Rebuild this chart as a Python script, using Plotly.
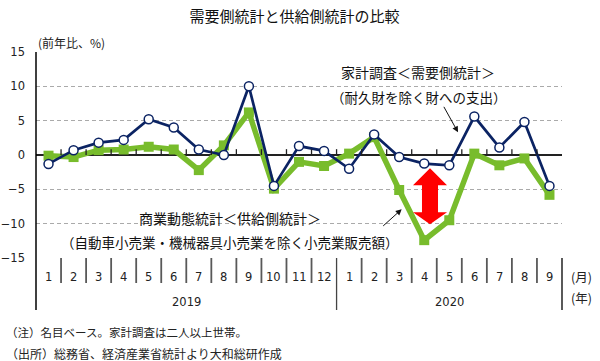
import plotly.graph_objects as go

# ---------------- data ----------------
months = ["1", "2", "3", "4", "5", "6", "7", "8", "9", "10", "11", "12",
          "1", "2", "3", "4", "5", "6", "7", "8", "9"]
years = ["2019", "2020"]
year_span = [(0, 11), (12, 20)]
household = [-1.3, 0.7, 1.8, 2.2, 5.2, 4.0, 0.8, 0.0, 10.0, -4.5, 1.3, 0.6,
             -2.0, 3.0, -0.3, -1.25, -1.5, 5.6, 1.1, 4.8, -4.5]
commerce = [-0.1, -0.3, 0.7, 0.8, 1.2, 0.8, -2.2, 1.4, 6.2, -4.9, -1.0, -1.6,
            0.2, 2.6, -5.1, -12.4, -9.5, 0.2, -1.5, -0.5, -5.8]
y_ticks = [-15, -10, -5, 0, 5, 10, 15]

x = list(range(len(months)))
n = len(months)

W, H = 600, 361
ML, MR, MT, MB = 36, 38, 52, 103
PW = W - ML - MR
PH = H - MT - MB

def px_x(p):  # pixel -> paper x
    return (p - ML) / PW

def px_y(p):  # pixel -> paper y
    return (H - MB - p) / PH

NAVY = "#0B2363"
GREEN = "#78BC2C"
JP = "Noto Sans CJK JP"
NUM = "DejaVu Sans"

fig = go.Figure()
fig.add_trace(go.Scatter(
    x=x, y=commerce, mode="lines+markers",
    line=dict(color=GREEN, width=5.5),
    marker=dict(symbol="square", size=10, color=GREEN),
    showlegend=False, hoverinfo="skip"))
fig.add_trace(go.Scatter(
    x=x, y=household, mode="lines+markers",
    line=dict(color=NAVY, width=2.7),
    marker=dict(symbol="circle", size=9, color="white", line=dict(color=NAVY, width=1.5)),
    showlegend=False, hoverinfo="skip"))

shapes = []
shapes.append(dict(type="rect", xref="paper", yref="paper", layer="between",
                   x0=px_x(327), x1=px_x(513), y0=px_y(108), y1=px_y(60),
                   fillcolor="white", line=dict(width=0)))
shapes.append(dict(type="rect", xref="paper", yref="paper", layer="between",
                   x0=px_x(58), x1=px_x(405), y0=px_y(250), y1=px_y(200),
                   fillcolor="white", line=dict(width=0)))
for k in range(n - 1):
    shapes.append(dict(type="line", xref="x", yref="y", x0=k + 0.5, x1=k + 0.5,
                       y0=0, y1=0.85, line=dict(color="#222", width=1.3)))
shapes.append(dict(type="line", xref="paper", yref="paper", x0=0, x1=0,
                   y0=px_y(310), y1=1, line=dict(color="black", width=1.5)))
shapes.append(dict(type="line", xref="paper", yref="paper", x0=1, x1=1,
                   y0=px_y(310), y1=0, line=dict(color="black", width=1.3)))
for k in range(n - 1):
    is_year = any(k == e for (_, e) in year_span[:-1])
    shapes.append(dict(type="line", xref="x", yref="paper", x0=k + 0.5, x1=k + 0.5,
                       y0=px_y(310) if is_year else px_y(283), y1=0,
                       line=dict(color="#444" if is_year else "#595959",
                                 width=1.3 if is_year else 1.8)))

cx, top, hb_top, hb_bot, bot = 15.23, -1.94, -4.41, -8.34, -10.09
hw, sw = 0.68, 0.32
path = (f"M {cx} {top} L {cx + hw} {hb_top} L {cx + sw} {hb_top} L {cx + sw} {hb_bot} "
        f"L {cx + hw} {hb_bot} L {cx} {bot} L {cx - hw} {hb_bot} L {cx - sw} {hb_bot} "
        f"L {cx - sw} {hb_top} L {cx - hw} {hb_top} Z")
shapes.append(dict(type="path", xref="x", yref="y", path=path,
                   fillcolor="#FF0000", line=dict(width=0), layer="above"))

ann = []
def txt(xv, yv, text, size, xref="paper", xanchor="center", color="#222", family=JP):
    ann.append(dict(x=xv, y=yv, xref=xref, yref="paper", text=text, showarrow=False,
                    xanchor=xanchor, yanchor="middle",
                    font=dict(family=family, size=size, color=color)))

for i, m in enumerate(months):
    txt(i, px_y(277), m, 11.5, xref="x", family=NUM)
for yr, (s, e) in zip(years, year_span):
    txt((s + e) / 2, px_y(302), yr, 11.5, xref="x", family=NUM)
txt(px_x(581), px_y(276), "(月)", 12.5)
txt(px_x(581), px_y(297), "(年)", 12.5)
txt(0, px_y(42), "(前年比、%)", 12, xanchor="left")
txt(px_x(418), px_y(72), "家計調査＜需要側統計＞", 14, color="#111")
txt(px_x(419), px_y(97), "（耐久財を除く財への支出）", 13.5, color="#111")
txt(px_x(230), px_y(218), "商業動態統計＜供給側統計＞", 14, color="#111")
txt(px_x(230), px_y(242), "（自動車小売業・機械器具小売業を除く小売業販売額）", 13.5, color="#111")
txt(px_x(4), px_y(332), "（注）名目ベース。家計調査は二人以上世帯。", 11.5, xanchor="left")
txt(px_x(4), px_y(353), "（出所）総務省、経済産業省統計より大和総研作成", 12, xanchor="left")

ann.append(dict(x=16.35, y=3.3, xref="x", yref="y", text="", showarrow=True,
                ax=-15, ay=-27, arrowhead=2, arrowsize=1.2, arrowwidth=1, arrowcolor="#111"))
ann.append(dict(x=14.1, y=-7.9, xref="x", yref="y", text="", showarrow=True,
                ax=-20, ay=18, arrowhead=2, arrowsize=1.2, arrowwidth=1, arrowcolor="#111"))

fig.update_layout(
    width=W, height=H,
    margin=dict(l=ML, r=MR, t=MT, b=MB, autoexpand=False),
    paper_bgcolor="white", plot_bgcolor="white",
    title=dict(text="需要側統計と供給側統計の比較", x=294.5 / W, xanchor="center",
               y=1 - 17 / H, yanchor="middle",
               font=dict(family=JP, size=15, color="#111")),
    xaxis=dict(range=[-0.5, n - 0.5], showticklabels=False, showgrid=False,
               zeroline=False, showline=False, ticks="", fixedrange=True, automargin=False),
    yaxis=dict(range=[-15, 15], tickvals=y_ticks, showgrid=True,
               gridcolor="#AAAAAA", griddash="4px,3px", gridwidth=1,
               zeroline=True, zerolinecolor="#222", zerolinewidth=1.6,
               showline=False, ticks="", ticklabelstandoff=10, automargin=False,
               tickfont=dict(family=NUM, size=11.5, color="#222")),
    annotations=ann, shapes=shapes, showlegend=False,
)

fig.write_html("out.html", config={"displayModeBar": False},
               post_script="document.body.style.margin='0';document.body.style.overflow='hidden';")
